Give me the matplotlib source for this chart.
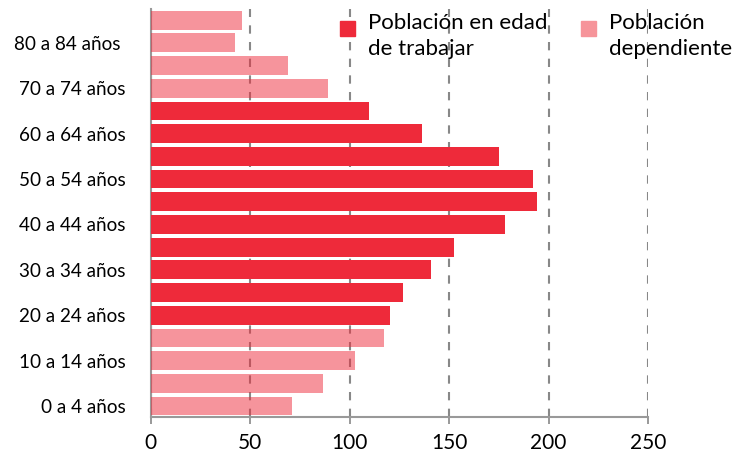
import numpy as np
import matplotlib; matplotlib.use("Agg")
import matplotlib.pyplot as plt
from matplotlib.patches import Rectangle

plt.rcParams["font.family"] = ["Lato", "DejaVu Sans"]

# grupos de edad (de abajo hacia arriba)
grupos = ["0 a 4 años", "5 a 9 años", "10 a 14 años", "15 a 19 años", "20 a 24 años",
          "25 a 29 años", "30 a 34 años", "35 a 39 años", "40 a 44 años", "45 a 49 años",
          "50 a 54 años", "55 a 59 años", "60 a 64 años", "65 a 69 años", "70 a 74 años",
          "75 a 79 años", "80 a 84 años ", "85 años y más"]
poblacion = [71, 86.6, 102.5, 117.1, 120.1, 126.6, 141, 152.6, 178.2, 194,
             192.2, 175, 136.3, 109.7, 88.9, 68.8, 42.4, 45.7]
en_edad_trabajar = [False, False, False, False, True, True, True, True, True, True,
                    True, True, True, True, False, False, False, False]
xticks = [0, 50, 100, 150, 200, 250]

ROJO = "#EE2A3A"
ROSA = "#F6949A"

fig = plt.figure(figsize=(7.36, 4.54), dpi=100)
ax = fig.add_axes([150.7 / 736, 36.6 / 454, (648 - 150.7) / 736, 408.6 / 454])

y = np.arange(len(grupos))
for yi, v, trab in zip(y, poblacion, en_edad_trabajar):
    if trab:
        ax.barh(yi, v, height=0.83, color=ROJO, zorder=3)
    else:
        ax.barh(yi, v, height=0.83, color=ROJO, alpha=0.5, zorder=3)

ax.set_xlim(0, 250)
ax.set_ylim(-0.5, len(grupos) - 0.5)
ax.set_xticks(xticks)
ax.set_yticks(y[::2])
ax.set_yticklabels(grupos[::2])
ax.tick_params(axis="y", length=0, pad=18, labelsize=13.6)
ax.tick_params(axis="x", length=5, color="#888", width=1.2, pad=6, labelsize=15)
ax.xaxis.grid(True, ls=(0, (4, 4)), color="#888", lw=1.5, zorder=0)
ax.set_axisbelow(True)
for s in ["top", "right"]:
    ax.spines[s].set_visible(False)
for s in ["left", "bottom"]:
    ax.spines[s].set_color("#999")
    ax.spines[s].set_linewidth(1.5)

# leyenda (cuadrados alineados con la primera linea, como en el original)
for x0, col, txt in [(340, ROJO, "Población en edad\nde trabajar"),
                     (581, ROSA, "Población\ndependiente")]:
    fig.patches.append(Rectangle((x0 / 736, 1 - 36 / 454), 15 / 736, 15 / 454,
                                 transform=fig.transFigure, color=col))
    fig.text((x0 + 28) / 736, 1 - 13 / 454, txt, fontsize=16, va="top", ha="left",
             linespacing=1.4)

fig.savefig("out.png", dpi=100)
